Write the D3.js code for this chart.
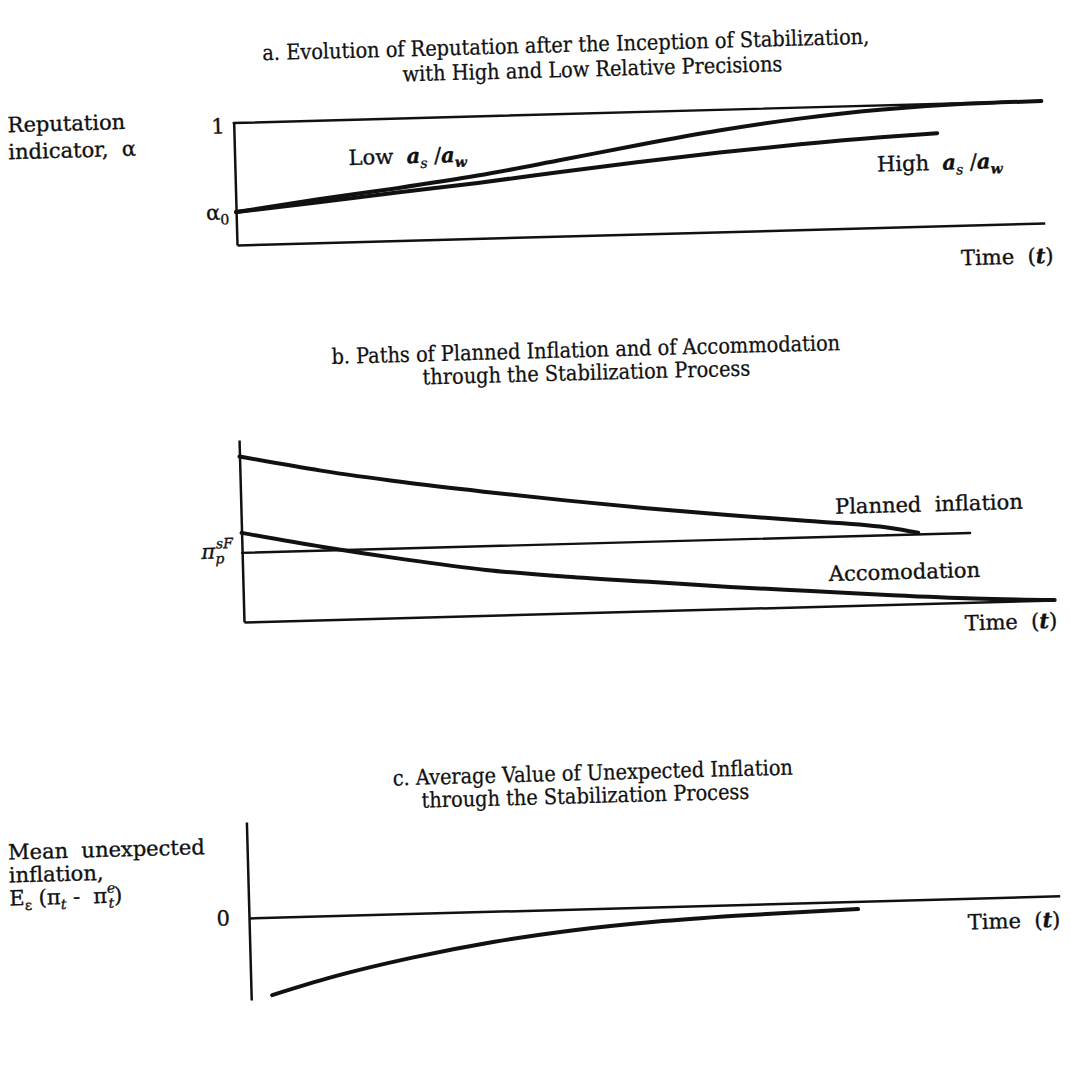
<!DOCTYPE html>
<html>
<head>
<meta charset="utf-8">
<script src="https://cdn.jsdelivr.net/npm/d3@7"></script>
<style>
  body { margin: 0; background: #fff; }
  svg { display: block; }
  .lbl { font-family: "DejaVu Serif", serif; font-size: 21px; fill: #111; stroke: #111; stroke-width: 0.35; }
  .ttl { font-family: "DejaVu Serif Condensed", "DejaVu Serif", serif; font-size: 21.5px; fill: #111; stroke: #111; stroke-width: 0.25; }
  .axis path { stroke: #111; stroke-width: 2.5; }
</style>
</head>
<body>
<svg id="chart" width="1070" height="1066"></svg>
<script>
// ---- data (t = share of the time axis, values in each panel's own units)
// a. reputation indicator
const alpha0 = 0.27;
const tLow = [0, .1, .2, .3, .4, .5, .6, .7, .8, .9, 1];
const lowPrecision = [.27, .355, .43, .515, .62, .73, .83, .91, .965, .993, 1];
const tHigh = [0, .1, .2, .3, .4, .5, .6, .7, .8, .87];
const highPrecision = [.27, .33, .395, .455, .525, .59, .65, .70, .74, .76];

// b. planned inflation and accommodation
const piSF = 0.38;
const piSFEnd = 0.898;
const tPlanned = [0, .1, .2, .3, .4, .5, .6, .7, .8, .834];
const plannedInflation = [.91, .82, .745, .68, .62, .565, .515, .47, .42, .39];
const tAccom = [0, .1, .2, .3, .4, .5, .6, .7, .8, .9, 1];
const accommodation = [.49, .40, .32, .25, .20, .16, .12, .085, .05, .02, 0];

// c. mean unexpected inflation
const tUnexp = [.026, .1, .2, .3, .4, .5, .6, .7, .751];
const unexpected = [-.81, -.64, -.46, -.32, -.22, -.155, -.115, -.09, -.08];

const tilt = -1.56; // the scanned page is slightly rotated
const sp = "\u00a0";

const svg = d3.select("#chart");

// text with italic / sub / sup pieces
function rich(g, x, y, parts, anchor) {
  const t = g.append("text").attr("class", "lbl")
    .attr("x", x).attr("y", y)
    .attr("text-anchor", anchor || "start");
  let shift = 0;
  parts.forEach(p => {
    const s = p.sub ? 5 : p.sup ? -10 : 0;
    const ts = t.append("tspan").text(p.t).attr("dy", s - shift);
    shift = s;
    if (p.dx) ts.attr("dx", p.dx);
    if (p.i) ts.style("font-style", "italic");
    if (p.b) ts.style("font-weight", "bold");
    if (p.sub || p.sup) ts.style("font-size", "14px");
  });
  return t;
}

function title(lines) {
  const g = svg.append("g");
  lines.forEach(l => {
    g.append("text").attr("class", "ttl")
      .attr("x", l.x).attr("y", l.y)
      .attr("text-anchor", "middle")
      .text(l.text);
  });
  const c = lines[0];
  g.attr("transform", `rotate(${tilt},${c.x},${c.y})`);
}

function panel(cfg) {
  const x = d3.scaleLinear().domain([0, 1]).range([cfg.x0, cfg.x0 + cfg.w]);
  const y = d3.scaleLinear().domain(cfg.yDomain).range(cfg.yRange);
  const g = svg.append("g")
    .attr("transform", `rotate(${tilt},${cfg.x0},${y(0)})`);

  g.append("g").attr("class", "axis")
    .attr("transform", `translate(${cfg.x0},0)`)
    .call(d3.axisLeft(y).tickValues([]).tickSizeOuter(0));
  g.append("g").attr("class", "axis")
    .attr("transform", `translate(0,${y(0)})`)
    .call(d3.axisBottom(x).tickValues([]).tickSizeOuter(0));

  const line = d3.line().x(d => x(d[0])).y(d => y(d[1])).curve(d3.curveMonotoneX);
  const draw = (ts, vs, w) => g.append("path")
    .datum(ts.map((t, i) => [t, vs[i]]))
    .attr("d", line)
    .attr("fill", "none")
    .attr("stroke", "#111")
    .attr("stroke-width", w)
    .attr("stroke-linecap", "round");

  return { g, x, y, draw };
}

const timeLabel = [{ t: "Time" + sp + " (" }, { t: "t", i: true, b: true }, { t: ")" }];
const ratio = [{ t: "a", i: true, b: true }, { t: "s", sub: true, i: true },
  { t: " /" }, { t: "a", i: true, b: true }, { t: "w", sub: true, i: true, b: true }];

// ---------- a
title([
  { x: 566, y: 52, text: "a. Evolution of Reputation after the Inception of Stabilization," },
  { x: 592, y: 77, text: "with High and Low Relative Precisions" }
]);

const pa = panel({ x0: 237, w: 808, yDomain: [0, 1], yRange: [245, 123] });
pa.draw([0, 1], [1, 1], 2.4);
pa.draw(tLow, lowPrecision, 4);
pa.draw(tHigh, highPrecision, 4);

rich(pa.g, pa.x(0) - 9, pa.y(1) + 10, [{ t: "1" }], "end");
rich(pa.g, pa.x(0) - 7, pa.y(alpha0) + 7, [{ t: "α" }, { t: "0", sub: true }], "end");
rich(pa.g, pa.x(0) - 226, 126, [{ t: "Reputation" }]);
rich(pa.g, pa.x(0) - 226, 153, [{ t: "indicator," + sp + " α" }]);
rich(pa.g, pa.x(0) + 114, pa.y(0) - 77, [{ t: "Low" + sp + " " }].concat(ratio));
rich(pa.g, pa.x(0) + 642, pa.y(0) - 56, [{ t: "High" + sp + " " }].concat(ratio));
rich(pa.g, pa.x(1) + 8, pa.y(0) + 40, timeLabel, "end");

// ---------- b
title([
  { x: 586, y: 357, text: "b. Paths of Planned Inflation and of Accommodation" },
  { x: 586, y: 380, text: "through the Stabilization Process" }
]);

const pb = panel({ x0: 244, w: 811, yDomain: [0, 1], yRange: [622, 440] });
pb.draw([0, piSFEnd], [piSF, piSF], 2.4);
pb.draw(tPlanned, plannedInflation, 4);
pb.draw(tAccom, accommodation, 4);

rich(pb.g, pb.x(0) - 9, pb.y(piSF) + 5, [
  { t: "π", i: true }, { t: "p", sub: true, i: true }, { t: "sF", sup: true, i: true, dx: -8 }], "end");
rich(pb.g, pb.x(0) + 594, pb.y(0) - 92, [{ t: "Planned" + sp + " inflation" }]);
rich(pb.g, pb.x(0) + 586, pb.y(0) - 25, [{ t: "Accomodation" }]);
rich(pb.g, pb.x(1) + 2, pb.y(0) + 28, timeLabel, "end");

// ---------- c
title([
  { x: 593, y: 780, text: "c. Average Value of Unexpected Inflation" },
  { x: 585, y: 803, text: "through the Stabilization Process" }
]);

const pc = panel({ x0: 249, w: 811, yDomain: [-0.855, 1], yRange: [1000, 822] });
pc.draw(tUnexp, unexpected, 4);

rich(pc.g, pc.x(0) - 19, pc.y(0) + 7, [{ t: "0" }], "end");
rich(pc.g, pc.x(0) - 239, pc.y(0) - 65, [{ t: "Mean" + sp + " unexpected" }]);
rich(pc.g, pc.x(0) - 239, pc.y(0) - 42, [{ t: "inflation," }]);
rich(pc.g, pc.x(0) - 239, pc.y(0) - 19, [
  { t: "E" }, { t: "ε", sub: true }, { t: " (π" }, { t: "t", sub: true, i: true },
  { t: " - " + sp + "π" }, { t: "e", sup: true, i: true }, { t: "t", sub: true, i: true, dx: -7 }, { t: ")" }]);
rich(pc.g, pc.x(1), pc.y(0) + 31, timeLabel, "end");
</script>
</body>
</html>
